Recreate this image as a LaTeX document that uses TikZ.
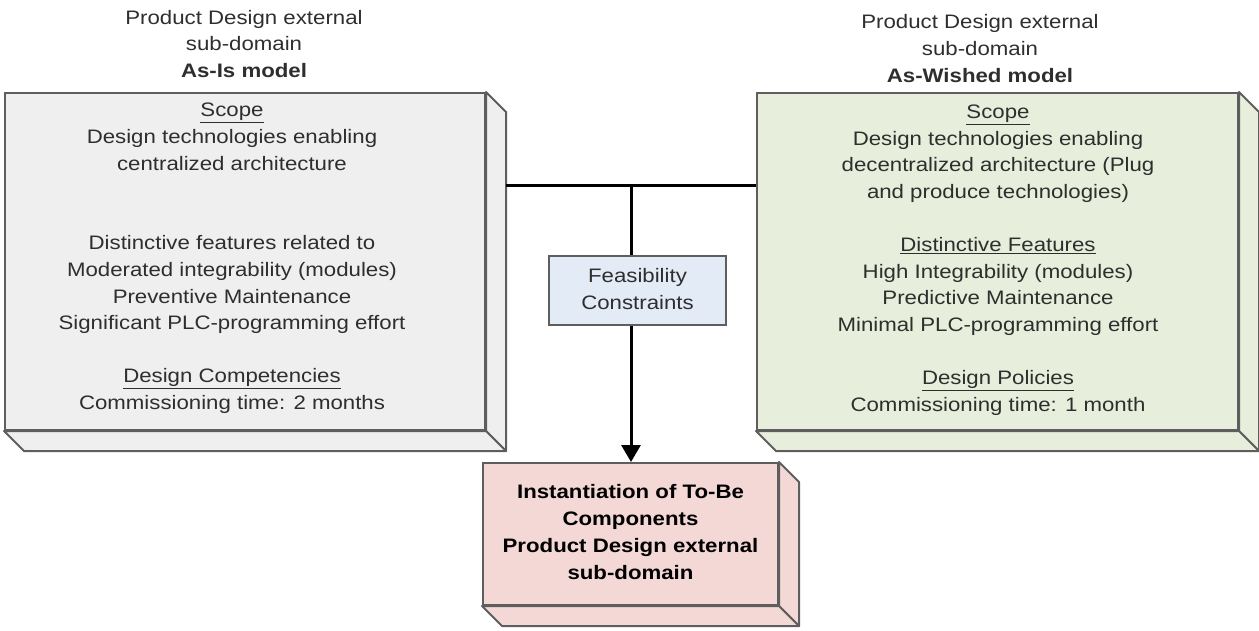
\documentclass[tikz,border=0pt]{standalone}
\usepackage{fontspec}
\setmainfont{Liberation Sans}[FakeStretch=1.14]
\usetikzlibrary{arrows.meta}

\definecolor{edgegray}{HTML}{5E5E5E}
\definecolor{inkgray}{HTML}{2E2E2E}
\definecolor{asisfill}{HTML}{EFEFEF}
\definecolor{wishfill}{HTML}{E7EFDC}
\definecolor{feasfill}{HTML}{E3EBF6}
\definecolor{tobefill}{HTML}{F3D8D6}

\tikzset{
  face/.style={draw=edgegray, line width=2pt, inner sep=0pt},
  slabline/.style={draw=edgegray, line width=2pt, line join=round},
  bodytext/.style={align=center, text=inkgray, inner sep=0pt,
    font=\fontsize{19.5}{26.6}\selectfont},
  link/.style={draw=black, line width=3pt},
}

% side and bottom faces of a raised box
\newcommand{\slab}[2]{%
  \filldraw[slabline, fill=#2] (#1.north east) -- ++(20,20)
    -- ([shift={(20,20)}]#1.south east) -- (#1.south east) -- cycle;
  \filldraw[slabline, fill=#2] (#1.south west) -- ++(20,20)
    -- ([shift={(20,20)}]#1.south east) -- (#1.south east) -- cycle;
}

\begin{document}
\begin{tikzpicture}[x=1pt,y=-1pt]
\useasboundingbox (0,0) rectangle (1259,630);

% Titles
\node[bodytext] (asistitle) at (244,44) {Product Design external\\sub-domain\\\textbf{As-Is model}};
\node[bodytext] (wishtitle) at (980,48.5) {Product Design external\\sub-domain\\\textbf{As-Wished model}};

% As-Is box
\node[face, fill=asisfill, minimum width=480pt, minimum height=337pt] (asis) at (245,261.5) {};
\slab{asis}{asisfill}
\node[bodytext] (asistext) at (232,258.5) {\underline{Scope}\\
  Design technologies enabling\\
  centralized architecture\\[53.2pt]
  Distinctive features related to\\
  Moderated integrability (modules)\\
  Preventive Maintenance\\
  Significant PLC-programming effort\\[26.6pt]
  \underline{Design Competencies}\\
  Commissioning time: 2 months};

% As-Wished box
\node[face, fill=wishfill, minimum width=481pt, minimum height=337pt] (wish) at (997.5,261.5) {};
\slab{wish}{wishfill}
\node[bodytext] (wishtext) at (998,260) {\underline{Scope}\\
  Design technologies enabling\\
  decentralized architecture (Plug\\
  and produce technologies)\\[26.6pt]
  \underline{Distinctive Features}\\
  High Integrability (modules)\\
  Predictive Maintenance\\
  Minimal PLC-programming effort\\[26.6pt]
  \underline{Design Policies}\\
  Commissioning time: 1 month};

% Feasibility constraints
\node[face, fill=feasfill, minimum width=177pt, minimum height=69pt] (feas) at (637.5,290.5) {};
\node[bodytext] (feastext) at (637.5,289) {Feasibility\\Constraints};

% To-Be box
\node[face, fill=tobefill, minimum width=295pt, minimum height=142pt] (tobe) at (630.5,534) {};
\slab{tobe}{tobefill}
\node[bodytext, text=black, font=\fontsize{19.5}{27}\selectfont\bfseries] (tobetext) at (630.5,532)
  {Instantiation of To-Be\\Components\\Product Design external\\sub-domain};

% Connectors
\coordinate (junction) at (631,185);
\draw[link] ([xshift=20pt]asis.east |- junction) -- (wish.west |- junction);
\draw[link] (junction) -- (feas.north -| junction);
\draw[link, -{Triangle[length=17pt, width=19pt]}] (feas.south -| junction) -- (tobe.north -| junction);

\end{tikzpicture}
\end{document}
